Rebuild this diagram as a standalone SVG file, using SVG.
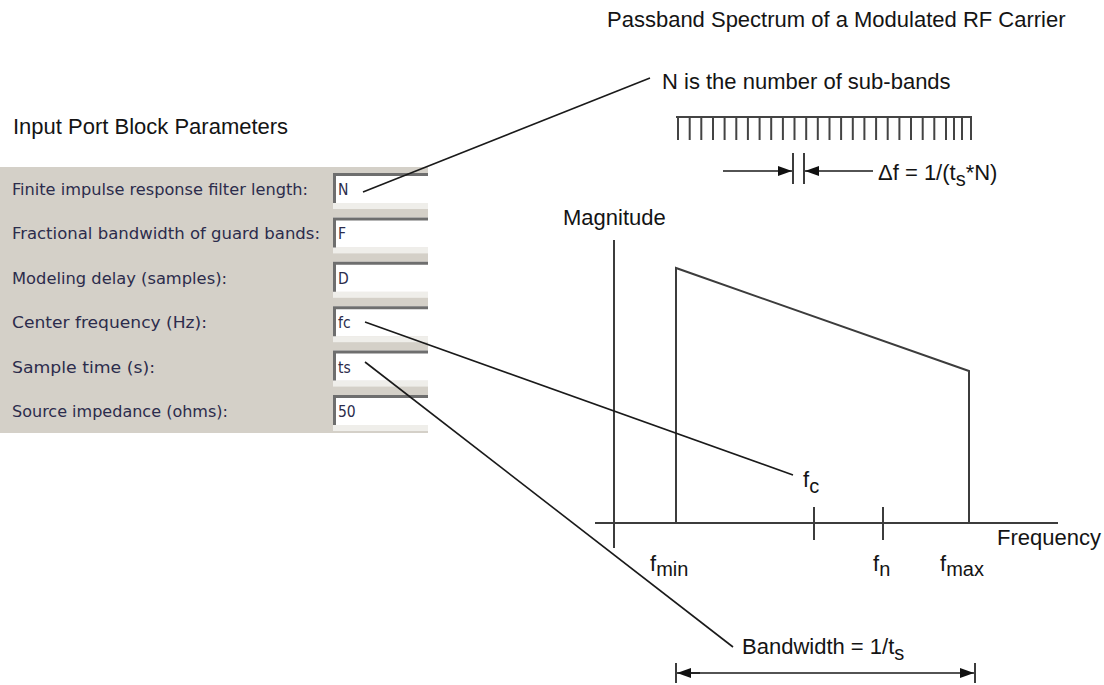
<svg xmlns="http://www.w3.org/2000/svg" width="1104" height="685" viewBox="0 0 1104 685">
<style>
.t{font-family:"Liberation Sans",Arial,sans-serif;font-size:22px;fill:#141414}
.sub{font-size:20px}
.lbl{font-family:"DejaVu Sans Condensed","DejaVu Sans",sans-serif;font-size:15.5px;fill:#2c2c4c}
.ax{stroke:#3c3c3c;stroke-width:2;fill:none}
.ln{stroke:#1a1a1a;stroke-width:1.6;fill:none}
.tooth{stroke:#444;stroke-width:2}
.boxw{fill:#fff}
.boxd{stroke:#6e6e6e;stroke-width:3;fill:none}
.boxh{fill:#efeeea}
</style>
<defs>
<marker id="ah" viewBox="0 0 14 10" refX="14" refY="5" markerWidth="14" markerHeight="10" markerUnits="userSpaceOnUse" orient="auto">
<path d="M0,0 L14,5 L0,10 Z" fill="#111"/>
</marker>
</defs>
<rect width="1104" height="685" fill="#fff"/>

<g id="titles">
<text class="t" x="607" y="27">Passband Spectrum of a Modulated RF Carrier</text>
<text class="t" x="13" y="134">Input Port Block Parameters</text>
</g>

<g id="panel">
<rect x="0" y="167" width="428" height="266" fill="#d4d0c8"/>
<g id="row-N">
<text class="lbl" x="12" y="195" textLength="296" lengthAdjust="spacingAndGlyphs">Finite impulse response filter length:</text>
<rect class="boxh" x="333" y="203" width="95" height="6"/>
<rect class="boxw" x="333" y="173" width="95" height="30"/>
<path class="boxd" d="M334.5,203 V174.5 H428"/>
<text class="lbl" x="338" y="195">N</text>
</g>
<g id="row-F">
<text class="lbl" x="12" y="239" textLength="308" lengthAdjust="spacingAndGlyphs">Fractional bandwidth of guard bands:</text>
<rect class="boxh" x="333" y="247.4" width="95" height="6"/>
<rect class="boxw" x="333" y="217.4" width="95" height="30"/>
<path class="boxd" d="M334.5,247.4 V218.9 H428"/>
<text class="lbl" x="338" y="239">F</text>
</g>
<g id="row-D">
<text class="lbl" x="12" y="284" textLength="215" lengthAdjust="spacingAndGlyphs">Modeling delay (samples):</text>
<rect class="boxh" x="333" y="291.8" width="95" height="6"/>
<rect class="boxw" x="333" y="261.8" width="95" height="30"/>
<path class="boxd" d="M334.5,291.8 V263.3 H428"/>
<text class="lbl" x="338" y="284">D</text>
</g>
<g id="row-fc">
<text class="lbl" x="12" y="328" textLength="195" lengthAdjust="spacingAndGlyphs">Center frequency (Hz):</text>
<rect class="boxh" x="333" y="336.2" width="95" height="6"/>
<rect class="boxw" x="333" y="306.2" width="95" height="30"/>
<path class="boxd" d="M334.5,336.2 V307.7 H428"/>
<text class="lbl" x="338" y="328">fc</text>
</g>
<g id="row-ts">
<text class="lbl" x="12" y="373" textLength="143" lengthAdjust="spacingAndGlyphs">Sample time (s):</text>
<rect class="boxh" x="333" y="380.6" width="95" height="6"/>
<rect class="boxw" x="333" y="350.6" width="95" height="30"/>
<path class="boxd" d="M334.5,380.6 V352.1 H428"/>
<text class="lbl" x="338" y="373">ts</text>
</g>
<g id="row-50">
<text class="lbl" x="12" y="417" textLength="216" lengthAdjust="spacingAndGlyphs">Source impedance (ohms):</text>
<rect class="boxh" x="333" y="425" width="95" height="6"/>
<rect class="boxw" x="333" y="395" width="95" height="30"/>
<path class="boxd" d="M334.5,425 V396.5 H428"/>
<text class="lbl" x="338" y="417">50</text>
</g>
</g>

<g id="subbands">
<text class="t" x="662" y="89">N is the number of sub-bands</text>
<path class="tooth" d="M676,117 H972"/>
<path class="tooth" d="M678,117V140 M689.7,117V140 M701.3,117V140 M713,117V140 M724.6,117V140 M736.3,117V140 M747.9,117V140 M759.6,117V140 M771.2,117V140 M782.9,117V140 M794.5,117V140 M806.2,117V140 M817.8,117V140 M829.5,117V140 M841.1,117V140 M852.8,117V140 M864.4,117V140 M876.1,117V140 M887.7,117V140 M899.4,117V140 M911,117V140 M922.7,117V140 M934.3,117V140 M946,117V140 M954,117V140 M962,117V140 M971,117V140"/>
<path class="ax" d="M793,153 V184 M804,153 V184"/>
<path class="ln" d="M723,171 H792" marker-end="url(#ah)"/>
<path class="ln" d="M873,171 H805" marker-end="url(#ah)"/>
<text class="t" x="878" y="180">Δf = 1/(t<tspan class="sub" dy="6">s</tspan><tspan dy="-6">*N)</tspan></text>
</g>

<g id="spectrum">
<text class="t" x="563" y="225">Magnitude</text>
<path class="ax" d="M614,240 V548"/>
<path class="ax" d="M595,523 H1058"/>
<path class="ax" d="M676,523 V268 L969,371 V523"/>
<path class="ax" d="M814,507 V540 M883,507 V540"/>
<text class="t" x="997" y="545">Frequency</text>
<text class="t" x="650" y="571">f<tspan class="sub" dy="5">min</tspan></text>
<text class="t" x="873" y="571">f<tspan class="sub" dy="5">n</tspan></text>
<text class="t" x="940" y="571">f<tspan class="sub" dy="5">max</tspan></text>
<text class="t" x="803" y="487">f<tspan class="sub" dy="6">c</tspan></text>
</g>

<g id="bandwidth">
<text class="t" x="742" y="654">Bandwidth = 1/t<tspan class="sub" dy="6">s</tspan></text>
<path class="ax" d="M676,663 V683 M975,663 V683"/>
<path class="ln" d="M700,673 H677" marker-end="url(#ah)"/>
<path class="ln" d="M690,673 H974" marker-end="url(#ah)"/>
</g>

<g id="connectors">
<path class="ln" d="M363,192 L650,78"/>
<path class="ln" d="M365,322 L793,475"/>
<path class="ln" d="M365,362 L733,647"/>
</g>
</svg>
